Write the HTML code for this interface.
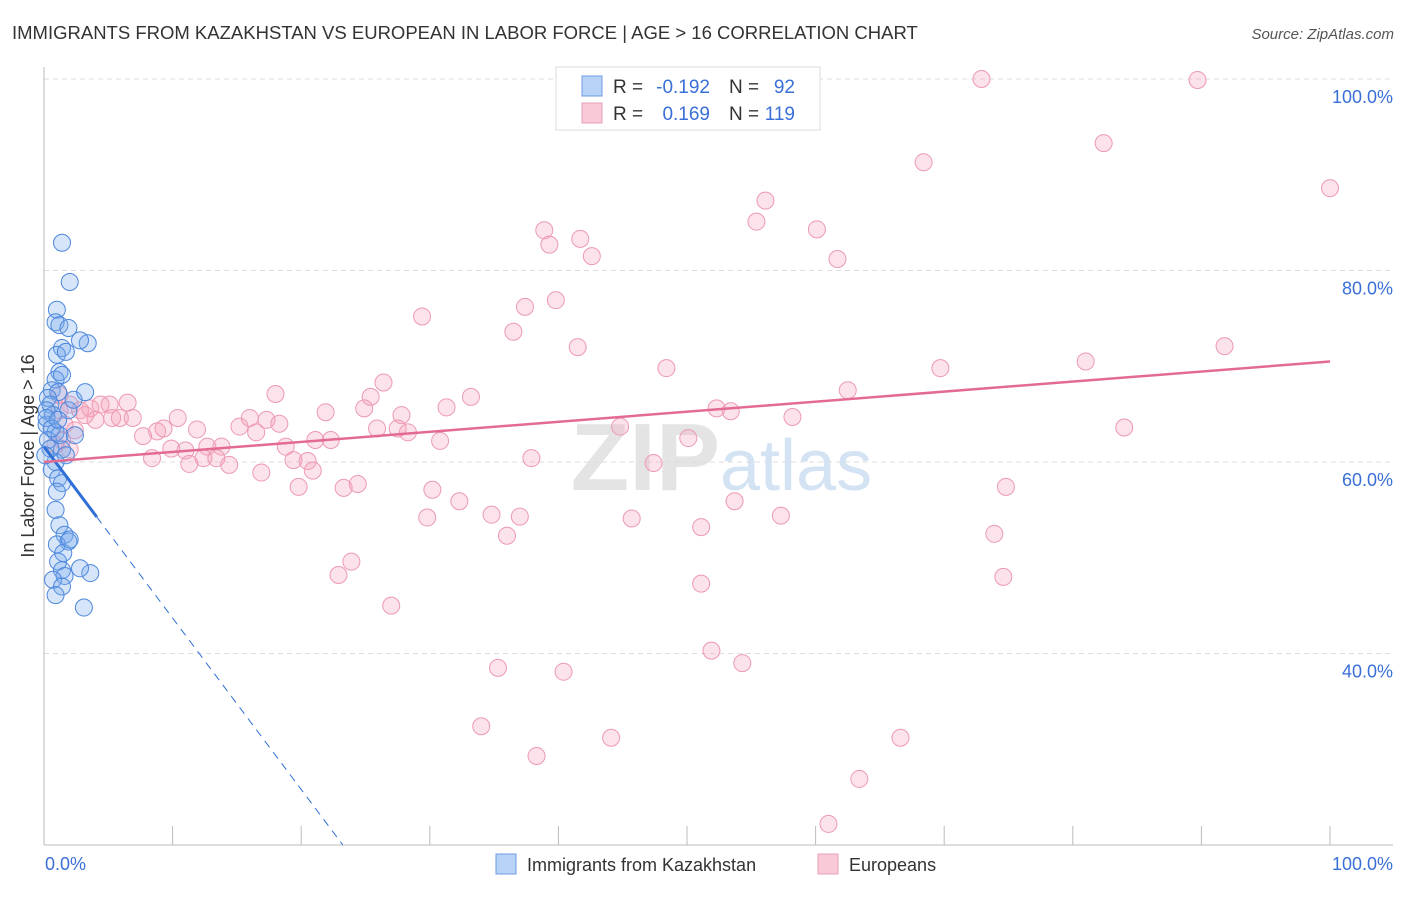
<!DOCTYPE html>
<html><head><meta charset="utf-8"><style>
body{margin:0;background:#fff;font-family:"Liberation Sans",sans-serif}
svg text{font-family:"Liberation Sans",sans-serif}
</style></head><body>
<svg id="chart" width="1406" height="892">
<text x="12" y="39" font-size="18.5" fill="#333">IMMIGRANTS FROM KAZAKHSTAN VS EUROPEAN IN LABOR FORCE | AGE &gt; 16 CORRELATION CHART</text>
<text x="1394" y="39" font-size="15" fill="#555" font-style="italic" text-anchor="end">Source: ZipAtlas.com</text>
<text x="720" y="490" font-size="96" fill="#e4e4e4" font-family="Liberation Serif" font-weight="bold" text-anchor="end">ZIP</text>
<text x="720" y="490" font-size="72" fill="#d4e3f3">atlas</text>
<g id="grid"></g><g id="axes"></g><g id="pts"></g><g id="lines"></g>
<text transform="translate(34,456) rotate(-90)" font-size="18" fill="#333" text-anchor="middle">In Labor Force | Age &gt; 16</text>
<text x="45" y="870" font-size="18" fill="#3a6fd8">0.0%</text>
<text x="1393" y="870" font-size="18" fill="#3a6fd8" text-anchor="end">100.0%</text>
<g>
<rect x="556" y="67" width="264" height="63" fill="#fff" stroke="#ddd"/>
<rect x="582" y="76" width="20" height="20" fill="#b8d3f5" stroke="#6c9be0"/>
<rect x="582" y="103" width="20" height="20" fill="#f9c9d7" stroke="#e8a0b6"/>
<text x="613" y="93" font-size="19" fill="#333">R =</text>
<text x="710" y="93" font-size="19" fill="#3a6fd8" text-anchor="end">-0.192</text>
<text x="729" y="93" font-size="19" fill="#333">N =</text>
<text x="795" y="93" font-size="19" fill="#3a6fd8" text-anchor="end">92</text>
<text x="613" y="120" font-size="19" fill="#333">R =</text>
<text x="710" y="120" font-size="19" fill="#3a6fd8" text-anchor="end">0.169</text>
<text x="729" y="120" font-size="19" fill="#333">N =</text>
<text x="795" y="120" font-size="19" fill="#3a6fd8" text-anchor="end">119</text>
</g>
<g>
<rect x="496" y="854" width="20" height="20" fill="#b8d3f5" stroke="#6c9be0"/>
<text x="527" y="871" font-size="18" fill="#333">Immigrants from Kazakhstan</text>
<rect x="818" y="854" width="20" height="20" fill="#f9c9d7" stroke="#e8a0b6"/>
<text x="849" y="871" font-size="18" fill="#333">Europeans</text>
</g>
</svg>
<script>
const yTicks=[40,60,80,100];
const xTicks=[0,10,20,30,40,50,60,70,80,90,100];
const blueX=[1.4,2.0,1.0,0.9,1.2,1.9,3.4,1.4,1.0,1.7,2.8,1.2,0.9,1.4,0.6,1.1,0.3,0.5,0.7,0.2,0.9,0.3,1.2,1.9,2.3,3.2,2.4,1.4,1.7,0.9,0.6,1.1,1.4,1.0,0.9,1.2,1.6,1.9,1.0,1.5,1.1,1.4,1.6,3.6,2.8,0.7,1.4,0.9,3.1,0.2,0.2,0.5,0.1,2.0,0.6,1.1];
const blueY=[82.9,78.8,75.9,74.6,74.3,74.0,72.4,71.9,71.2,71.5,72.7,69.4,68.6,69.1,67.5,67.3,66.7,66.0,64.9,63.9,63.1,62.3,62.8,65.4,66.5,67.3,62.8,61.3,60.7,60.0,59.2,58.3,57.8,56.9,55.0,53.4,52.4,51.7,51.4,50.5,49.6,48.7,48.1,48.4,48.9,47.7,47.0,46.1,44.8,65.4,64.6,61.4,60.7,51.9,63.5,64.4];
const pinkX=[100,72.9,89.7,82.4,68.4,56.1,55.4,60.1,61.7,38.9,39.3,41.7,42.6,39.8,37.4,29.4,36.5,41.5,48.4,81.0,91.8,69.7,62.5,26.4,25.4,18.0,33.2,31.3,24.9,21.9,27.8,52.3,53.4,58.2,44.8,25.9,27.5,28.3,16.0,17.3,18.3,15.2,16.5,11.9,10.4,9.3,8.8,7.7,21.1,22.3,30.8,50.1,84.0,18.8,12.7,13.8,11.0,9.9,8.4,11.3,12.4,13.4,14.4,19.4,20.5,20.9,16.9,37.9,47.4,19.8,23.3,24.4,30.2,32.3,29.8,34.8,37.0,36.0,45.7,53.7,57.3,51.1,74.8,73.9,23.9,22.9,27.0,51.1,74.6,51.9,54.3,35.3,40.4,34.0,44.1,66.6,38.3,63.4,61.0,49.8,1.2,2.0,2.8,3.6,4.4,5.1,5.9,6.5,5.3,6.9,4.0,1.6,2.4,1.4,2.0,0.9,3.2,1.2];
const pinkY=[88.6,100,99.9,93.3,91.3,87.3,85.1,84.3,81.2,84.2,82.7,83.3,81.5,76.9,76.2,75.2,73.6,72.0,69.8,70.5,72.1,69.8,67.5,68.3,66.8,67.1,66.8,65.7,65.6,65.2,64.9,65.6,65.3,64.7,63.7,63.5,63.5,63.1,64.6,64.4,64.0,63.7,63.1,63.4,64.6,63.5,63.2,62.7,62.3,62.3,62.2,62.5,63.6,61.6,61.6,61.6,61.2,61.4,60.4,59.8,60.4,60.4,59.7,60.2,60.1,59.1,58.9,60.4,59.9,57.4,57.3,57.7,57.1,55.9,54.2,54.5,54.3,52.3,54.1,55.9,54.4,53.2,57.4,52.5,49.6,48.2,45.0,47.3,48.0,40.3,39.0,38.5,38.1,32.4,31.2,31.2,29.3,26.9,22.2,100,65.4,66.0,65.4,65.6,66.0,66.0,64.6,66.2,64.6,64.6,64.4,63.9,63.3,62.3,61.3,61.8,64.9,67.0];
const blueFit=[61.6,-1.79];
const pinkFit=[60.0,0.105];
const NS='http://www.w3.org/2000/svg';
const X=v=>44+v*12.86, Y=v=>79+(100-v)*9.575;
function mk(t,a,p){const e=document.createElementNS(NS,t);for(const k in a)e.setAttribute(k,a[k]);document.getElementById(p).appendChild(e);return e;}
yTicks.forEach(t=>{
 const l=mk('line',{x1:44,x2:1393,y1:Y(t),y2:Y(t),stroke:'#ddd','stroke-dasharray':'5,4'},'grid');
 
 
 const tx=mk('text',{x:1393,y:Y(t)+24,'font-size':18,fill:'#3a6fd8','text-anchor':'end'},'grid');
 tx.textContent=t.toFixed(1)+'%';
 
 
});
const ax=mk('line',{x1:44,x2:44,y1:67,y2:845,stroke:'#bbb'},'axes');


const bx=mk('line',{x1:44,x2:1393,y1:845,y2:845,stroke:'#bbb'},'axes');


xTicks.forEach(t=>{
 const l=mk('line',{x1:X(t),x2:X(t),y1:826,y2:845,stroke:'#bbb'},'axes');
 
 
});
pinkX.forEach((x,i)=>{
 const c=mk('circle',{cx:X(x),cy:Y(pinkY[i]),r:8.5,fill:'rgba(244,160,185,0.3)',stroke:'#ec9ab2','stroke-width':1},'pts');
 
 
});
blueX.forEach((x,i)=>{
 const c=mk('circle',{cx:X(x),cy:Y(blueY[i]),r:8.5,fill:'rgba(120,170,235,0.3)',stroke:'#4d87dd','stroke-width':1},'pts');
 
 
});
const bf=v=>blueFit[0]+blueFit[1]*v, pf=v=>pinkFit[0]+pinkFit[1]*v;
const xEnd=(20-blueFit[0])/blueFit[1];
const b1=mk('line',{x1:X(0),y1:Y(bf(0)),x2:X(4.1),y2:Y(bf(4.1)),stroke:'#2f6fd6','stroke-width':3},'lines');


const b2=mk('line',{x1:X(4.1),y1:Y(bf(4.1)),x2:X(xEnd),y2:Y(20),stroke:'#2f6fd6','stroke-width':1,'stroke-dasharray':'8,6'},'lines');


const p1=mk('line',{x1:X(0),y1:Y(pf(0)),x2:X(100),y2:Y(pf(100)),stroke:'#e36b93','stroke-width':2.5},'lines');


</script>
</body></html>
